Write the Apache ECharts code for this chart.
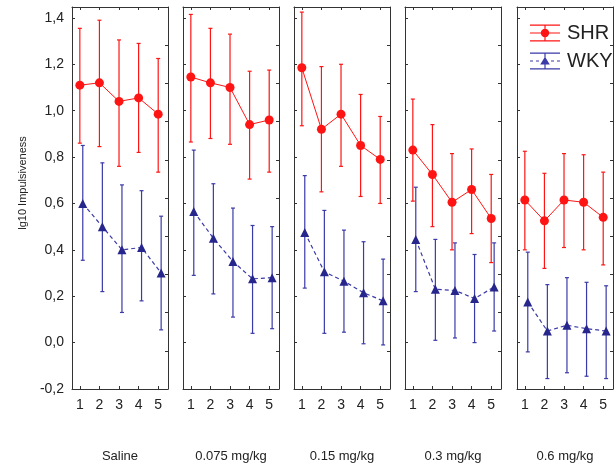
<!DOCTYPE html>
<html>
<head>
    <meta charset="UTF-8">
    <title>lg10 Impulsiveness</title>
    <script src="https://cdn.jsdelivr.net/npm/echarts@6/dist/echarts.min.js"></script>
    <style>
        html, body { margin: 0; padding: 0; background: #fff; }
        #main { width: 616px; height: 468px; }
    </style>
</head>
<body>
<div id="main"></div>
<script type="text/javascript">
    // panels (doses) and sessions
    var panels = ['Saline', '0.075 mg/kg', '0.15 mg/kg', '0.3 mg/kg', '0.6 mg/kg'];
    var sessions = [1, 2, 3, 4, 5];
    var yTicks = [-0.2, 0, 0.2, 0.4, 0.6, 0.8, 1.0, 1.2, 1.4];

    // SHR: mean and error bar ends, one row per panel
    var shrMean = [
        [1.11, 1.12, 1.04, 1.055, 0.985],
        [1.145, 1.12, 1.10, 0.94, 0.96],
        [1.185, 0.92, 0.985, 0.85, 0.79],
        [0.83, 0.725, 0.605, 0.66, 0.535],
        [0.615, 0.525, 0.615, 0.605, 0.54]
    ];
    var shrLow = [
        [0.86, 0.845, 0.76, 0.82, 0.735],
        [0.865, 0.88, 0.855, 0.705, 0.735],
        [0.935, 0.65, 0.76, 0.63, 0.60],
        [0.61, 0.50, 0.40, 0.47, 0.345],
        [0.40, 0.32, 0.41, 0.40, 0.335]
    ];
    var shrHigh = [
        [1.355, 1.39, 1.305, 1.29, 1.225],
        [1.415, 1.355, 1.33, 1.17, 1.175],
        [1.425, 1.19, 1.20, 1.07, 0.975],
        [1.05, 0.94, 0.815, 0.835, 0.725],
        [0.825, 0.73, 0.815, 0.81, 0.735]
    ];

    // WKY
    var wkyMean = [
        [0.60, 0.50, 0.40, 0.41, 0.30],
        [0.565, 0.45, 0.35, 0.275, 0.28],
        [0.475, 0.305, 0.265, 0.215, 0.18],
        [0.445, 0.23, 0.225, 0.19, 0.24],
        [0.175, 0.05, 0.075, 0.06, 0.05]
    ];
    var wkyLow = [
        [0.355, 0.22, 0.13, 0.18, 0.055],
        [0.29, 0.21, 0.11, 0.04, 0.06],
        [0.235, 0.04, 0.045, -0.005, -0.01],
        [0.22, 0.01, 0.02, 0.0, 0.05],
        [-0.04, -0.155, -0.13, -0.145, -0.155]
    ];
    var wkyHigh = [
        [0.85, 0.775, 0.68, 0.655, 0.545],
        [0.83, 0.685, 0.58, 0.505, 0.50],
        [0.72, 0.57, 0.485, 0.435, 0.36],
        [0.67, 0.445, 0.43, 0.38, 0.43],
        [0.39, 0.25, 0.28, 0.26, 0.245]
    ];

    var RED = '#ff1414';
    var BLUE = '#3a3aa8';
    var NAVY = '#26268c';
    var FONT = '"Liberation Sans", Arial, sans-serif';
    var wkyShift = 0.15; // WKY drawn slightly right of SHR

    var panelLeft = [72, 183, 294, 405, 517];
    var panelWidth = 96;

    var shrIcon = 'path://M0,0H30V1.2H0Z M0,7.9H30V9.1H0Z M0,15.8H30V17H0Z M14.4,0H15.6V17H14.4Z ' +
        'M10.8,8.5A4.2,4.2 0 1,1 19.2,8.5A4.2,4.2 0 1,1 10.8,8.5Z';
    var wkyIcon = 'path://M0,0H30V1.2H0Z M0,15.8H30V17H0Z M14.4,0H15.6V17H14.4Z ' +
        'M0,7.9H3V9.1H0Z M6,7.9H9V9.1H6Z M21,7.9H24V9.1H21Z M27,7.9H30V9.1H27Z M10.2,12L15,4.2L19.8,12Z';

    function comma(v) {
        return v.toFixed(1).replace('.', ',');
    }

    function errBar(color) {
        return function (params, api) {
            var x = api.value(0);
            var lo = api.coord([x, api.value(1)]);
            var hi = api.coord([x, api.value(2)]);
            var st = {stroke: color, lineWidth: 1.2};
            return {
                type: 'group',
                children: [
                    {type: 'line', shape: {x1: lo[0], y1: lo[1], x2: hi[0], y2: hi[1]}, style: st},
                    {type: 'line', shape: {x1: hi[0] - 2, y1: hi[1], x2: hi[0] + 2, y2: hi[1]}, style: st},
                    {type: 'line', shape: {x1: lo[0] - 2, y1: lo[1], x2: lo[0] + 2, y2: lo[1]}, style: st}
                ]
            };
        };
    }

    var grids = [], xAxes = [], yAxes = [], series = [];
    var frame = {show: true, onZero: false, lineStyle: {color: '#333', width: 1}};
    var tickIn = {show: true, inside: true, length: 3, lineStyle: {color: '#333'}};

    panels.forEach(function (title, i) {
        grids.push({left: panelLeft[i], width: panelWidth, top: 7, height: 383});

        xAxes.push({
            gridIndex: i, type: 'value', min: 0.6, max: 5.5, position: 'bottom',
            axisLine: frame, splitLine: {show: false},
            axisTick: Object.assign({customValues: sessions}, tickIn),
            axisLabel: {customValues: sessions, margin: 9, fontSize: 14, color: '#222', fontFamily: FONT},
            name: title, nameLocation: 'middle', nameGap: 61,
            nameTextStyle: {fontSize: 13, color: '#222', fontFamily: FONT}
        });
        xAxes.push({
            gridIndex: i, type: 'value', min: 0.6, max: 5.5, position: 'top',
            axisLine: frame, splitLine: {show: false},
            axisTick: Object.assign({customValues: sessions}, tickIn),
            axisLabel: {show: false}
        });

        yAxes.push({
            gridIndex: i, type: 'value', min: -0.2, max: 1.447, position: 'left',
            axisLine: frame, splitLine: {show: false},
            axisTick: Object.assign({customValues: yTicks}, tickIn),
            axisLabel: {
                show: i === 0, customValues: yTicks, margin: 8, fontSize: 14,
                color: '#222', fontFamily: FONT, formatter: comma
            }
        });
        yAxes.push({
            gridIndex: i, type: 'value', min: 0, max: 10, interval: 1, position: 'right',
            axisLine: frame, splitLine: {show: false}, axisTick: tickIn, axisLabel: {show: false}
        });

        var shrPts = [], shrErr = [], wkyPts = [], wkyErr = [];
        sessions.forEach(function (s, k) {
            shrPts.push([s, shrMean[i][k]]);
            shrErr.push([s, shrLow[i][k], shrHigh[i][k]]);
            wkyPts.push([s + wkyShift, wkyMean[i][k]]);
            wkyErr.push([s + wkyShift, wkyLow[i][k], wkyHigh[i][k]]);
        });

        series.push({
            name: 'SHR err', type: 'custom', xAxisIndex: 2 * i, yAxisIndex: 2 * i,
            renderItem: errBar(RED), encode: {x: 0, y: [1, 2]}, data: shrErr, silent: true, z: 2
        });
        series.push({
            name: 'WKY err', type: 'custom', xAxisIndex: 2 * i, yAxisIndex: 2 * i,
            renderItem: errBar(BLUE), encode: {x: 0, y: [1, 2]}, data: wkyErr, silent: true, z: 2
        });
        series.push({
            name: 'SHR', type: 'line', xAxisIndex: 2 * i, yAxisIndex: 2 * i,
            data: shrPts, symbol: 'circle', symbolSize: 9,
            itemStyle: {color: RED, borderWidth: 0},
            lineStyle: {color: RED, width: 1}, z: 3, animation: false
        });
        series.push({
            name: 'WKY', type: 'line', xAxisIndex: 2 * i, yAxisIndex: 2 * i,
            data: wkyPts, symbol: 'triangle', symbolSize: 9,
            itemStyle: {color: NAVY, borderWidth: 0},
            lineStyle: {color: BLUE, width: 1.2, type: [4, 3]}, z: 3, animation: false
        });
    });

    var myChart = echarts.init(document.getElementById('main'));
    var option = {
        animation: false,
        backgroundColor: '#fff',
        grid: grids,
        xAxis: xAxes,
        yAxis: yAxes,
        legend: {
            orient: 'vertical', left: 525, top: 18,
            itemWidth: 30, itemHeight: 17, itemGap: 8,
            itemStyle: {borderWidth: 0},
            textStyle: {fontSize: 20, color: '#222', fontFamily: FONT, padding: [0, 0, 0, 2]},
            data: [
                {name: 'SHR', icon: shrIcon, itemStyle: {color: RED}},
                {name: 'WKY', icon: wkyIcon, itemStyle: {color: BLUE}}
            ]
        },
        graphic: [{
            type: 'text', x: 23, y: 183, rotation: Math.PI / 2,
            style: {
                text: 'lg10 Impulsiveness', fill: '#222', font: '11px ' + FONT,
                textAlign: 'center', textVerticalAlign: 'middle'
            }
        }],
        series: series
    };
    myChart.setOption(option);
</script>
</body>
</html>
